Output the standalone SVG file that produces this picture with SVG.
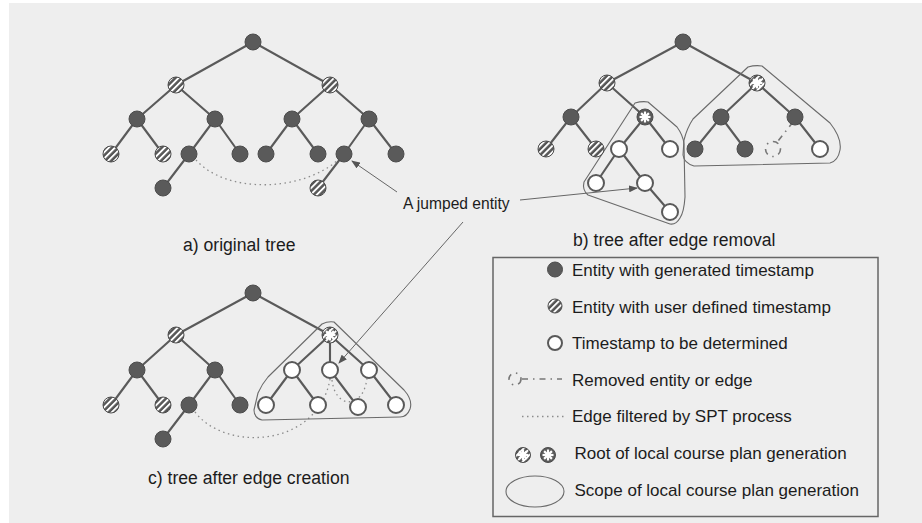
<svg xmlns="http://www.w3.org/2000/svg" width="922" height="523" viewBox="0 0 922 523">
<style>
.bg{fill:#eeeeee}
.e{stroke:#5a5a5a;stroke-width:2.1;fill:none;stroke-linecap:round}
.dot{stroke:#8c8c8c;stroke-width:1.3;fill:none;stroke-dasharray:1.5 3.5}
.rm{stroke:#777;stroke-width:1.6;fill:none;stroke-dasharray:6 5 1.5 5}
.ar{stroke:#666;stroke-width:1;fill:none}
.scope{stroke:#6a6a6a;stroke-width:1.1;fill:none;stroke-linejoin:round}
.d{fill:#5a5a5a;stroke:#4c4c4c;stroke-width:1}
.h{fill:url(#hatch);stroke:#4c4c4c;stroke-width:1}
.w{fill:#ffffff;stroke:#595959;stroke-width:2}
.t{font-family:"Liberation Sans",Arial,sans-serif;fill:#1c1c1c}
.cap{font-size:17.6px}
.lg{font-size:17px}
</style>
<defs>
<pattern id="hatch" patternUnits="userSpaceOnUse" width="4.4" height="4.4" patternTransform="rotate(45)">
<rect width="4.4" height="4.4" fill="#555"/>
<rect width="1.9" height="4.4" fill="#ffffff"/>
</pattern>
<g id="ast">
<line x1="-5.5" y1="0" x2="5.5" y2="0" stroke="#fff" stroke-width="2.2"/>
<line x1="0" y1="-5.5" x2="0" y2="5.5" stroke="#fff" stroke-width="2.2"/>
<line x1="-3.9" y1="-3.9" x2="3.9" y2="3.9" stroke="#fff" stroke-width="2.2"/>
<line x1="-3.9" y1="3.9" x2="3.9" y2="-3.9" stroke="#fff" stroke-width="2.2"/>
</g>
<marker id="arr" markerUnits="userSpaceOnUse" markerWidth="9" markerHeight="7" refX="8" refY="3.5" orient="auto">
<path d="M0,0 L9,3.5 L0,7 z" fill="#555"/>
</marker>
</defs>
<rect x="0" y="0" width="922" height="523" fill="#ffffff"/>
<rect class="bg" x="9" y="3" width="913" height="520"/>

<g id="connectors">
<!-- tree a -->
<path class="e" d="M253,42 L176,85 M253,42 L330,85 M176,85 L137,119 M176,85 L215,119 M330,85 L292,119 M330,85 L369,119 M137,119 L111,154 M137,119 L163,154 M215,119 L189,154 M215,119 L240,154 M292,119 L266,154 M292,119 L318,154 M369,119 L344,154 M369,119 L396,154 M189,154 L163,188 M344,154 L318,188"/>
<path class="dot" d="M196,160 C225,193 300,193 338,160"/>
<!-- tree b -->
<path class="e" d="M683,42 L607,83 M683,42 L757,83 M607,83 L571,117 M607,83 L645,117 M571,117 L546,149 M571,117 L596,149 M645,117 L619,149 M645,117 L670,149 M619,149 L596,183 M619,149 L645,183 M645,183 L670,212 M757,83 L721,117 M757,83 L795,117 M721,117 L695,149 M721,117 L745,149 M795,117 L820,149"/>
<path class="rm" d="M793,122 L778,141"/>
<!-- tree c -->
<path class="e" d="M253,293 L176,335 M253,293 L330,335 M176,335 L137,370 M176,335 L215,370 M137,370 L111,405 M137,370 L163,405 M215,370 L189,405 M215,370 L240,405 M189,405 L163,439 M330,335 L292,370 M330,335 L330,370 M330,335 L369,370 M292,370 L266,405 M292,370 L318,405 M330,370 L358,407 M369,370 L396,405"/>
<path class="dot" d="M195,412 C225,452 318,448 330,379"/>
<path class="dot" d="M332,380 C334,398 345,404 352,401 M367,378 C366,388 362,396 356,400"/>
<!-- jumped entity arrows -->
<path class="ar" d="M397,192 L352,161" marker-end="url(#arr)"/>
<path class="ar" d="M520,200 L637,188" marker-end="url(#arr)"/>
<path class="ar" d="M463,222 L339,363" marker-end="url(#arr)"/>
</g>

<g id="scopes">
<path class="scope" d="M635,103 Q642,101 648,102 L677,127 Q683,135 684,144 L685,197 Q684,212 680,218 Q676,225 670,224 L588,195 Q582,190 584,182 Z"/>
<path class="scope" d="M748,67 Q755,65 762,66 L830,123 Q842,138 840,150 Q838,161 830,163 L694,166 Q684,163 683,155 L684,140 Q687,128 693,119 Z"/>
<path class="scope" d="M322,324 Q328,321 334,322 L404,390 Q413,400 410,409 Q407,417 400,417 L262,420 Q254,418 254,410 L258,393 Q262,384 268,377 Z"/>
</g>

<g id="tree-a">
<circle class="d" cx="253" cy="42" r="8"/>
<circle class="h" cx="176" cy="85" r="8"/>
<circle class="h" cx="330" cy="85" r="8"/>
<circle class="d" cx="137" cy="119" r="8"/>
<circle class="d" cx="215" cy="119" r="8"/>
<circle class="d" cx="292" cy="119" r="8"/>
<circle class="d" cx="369" cy="119" r="8"/>
<circle class="h" cx="111" cy="154" r="8"/>
<circle class="h" cx="163" cy="154" r="8"/>
<circle class="d" cx="189" cy="154" r="8"/>
<circle class="d" cx="240" cy="154" r="8"/>
<circle class="d" cx="266" cy="154" r="8"/>
<circle class="d" cx="318" cy="154" r="8"/>
<circle class="d" cx="344" cy="154" r="8"/>
<circle class="d" cx="396" cy="154" r="8"/>
<circle class="d" cx="163" cy="188" r="8"/>
<circle class="h" cx="318" cy="188" r="8"/>
</g>

<g id="tree-b">
<circle class="d" cx="683" cy="42" r="8"/>
<circle class="h" cx="607" cy="83" r="8"/>
<circle class="h" cx="757" cy="83" r="8"/>
<use href="#ast" x="757" y="83"/>
<circle class="d" cx="571" cy="117" r="8"/>
<circle class="d" cx="645" cy="117" r="8"/>
<use href="#ast" x="645" y="117"/>
<circle class="d" cx="721" cy="117" r="8"/>
<circle class="d" cx="795" cy="117" r="8"/>
<circle class="h" cx="546" cy="149" r="8"/>
<circle class="h" cx="596" cy="149" r="8"/>
<circle class="w" cx="619" cy="149" r="8"/>
<circle class="w" cx="670" cy="149" r="8"/>
<circle class="d" cx="695" cy="149" r="8"/>
<circle class="d" cx="745" cy="149" r="8"/>
<circle class="rm" cx="773" cy="149" r="7.5"/>
<circle class="w" cx="820" cy="149" r="8"/>
<circle class="w" cx="596" cy="183" r="8"/>
<circle class="w" cx="645" cy="183" r="8"/>
<circle class="w" cx="670" cy="212" r="8"/>
</g>

<g id="tree-c">
<circle class="d" cx="253" cy="293" r="8"/>
<circle class="h" cx="176" cy="335" r="8"/>
<circle class="h" cx="330" cy="335" r="8"/>
<use href="#ast" x="330" y="335"/>
<circle class="d" cx="137" cy="370" r="8"/>
<circle class="d" cx="215" cy="370" r="8"/>
<circle class="w" cx="292" cy="370" r="8"/>
<circle class="w" cx="330" cy="370" r="8"/>
<circle class="w" cx="369" cy="370" r="8"/>
<circle class="h" cx="111" cy="405" r="8"/>
<circle class="h" cx="163" cy="405" r="8"/>
<circle class="d" cx="189" cy="405" r="8"/>
<circle class="d" cx="240" cy="405" r="8"/>
<circle class="w" cx="266" cy="405" r="8"/>
<circle class="w" cx="318" cy="405" r="8"/>
<circle class="w" cx="358" cy="407" r="8"/>
<circle class="w" cx="396" cy="405" r="8"/>
<circle class="d" cx="163" cy="439" r="8"/>
</g>

<g id="labels">
<text class="t" x="403" y="209" font-size="15.6">A jumped entity</text>
<text class="t cap" x="183" y="251">a) original tree</text>
<text class="t cap" x="573" y="246">b) tree after edge removal</text>
<text class="t cap" x="148" y="484">c) tree after edge creation</text>
</g>

<g id="legend">
<rect x="493" y="257.5" width="385" height="259" fill="none" stroke="#666" stroke-width="1.5"/>
<circle class="d" cx="555" cy="269.5" r="7.5"/>
<text class="t lg" x="572" y="276">Entity with generated timestamp</text>
<circle class="h" cx="555" cy="306" r="7"/>
<text class="t lg" x="572" y="312.5">Entity with user defined timestamp</text>
<circle class="w" cx="555" cy="343" r="7"/>
<text class="t lg" x="572" y="349">Timestamp to be determined</text>
<circle class="rm" cx="515" cy="379" r="6"/>
<path class="rm" d="M522,379 L562,379"/>
<text class="t lg" x="572" y="385.5">Removed entity or edge</text>
<path class="dot" d="M522,416.5 L564,416.5"/>
<text class="t lg" x="572" y="422">Edge filtered by SPT process</text>
<circle class="h" cx="523" cy="455" r="7.5"/>
<use href="#ast" x="523" y="455"/>
<circle class="d" cx="548" cy="455" r="7.5"/>
<use href="#ast" x="548" y="455"/>
<text class="t lg" x="574.5" y="459">Root of local course plan generation</text>
<ellipse cx="535" cy="491.5" rx="29" ry="15.5" fill="none" stroke="#6a6a6a" stroke-width="1.1"/>
<text class="t lg" x="574.5" y="495.5">Scope of local course plan generation</text>
</g>
</svg>
